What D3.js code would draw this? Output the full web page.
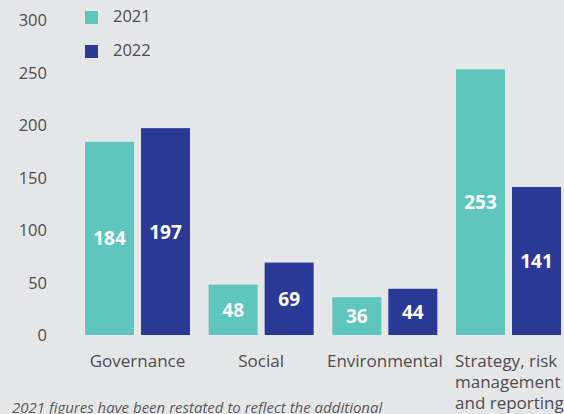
<!DOCTYPE html>
<html>
<head>
<meta charset="utf-8">
<script src="https://cdn.jsdelivr.net/npm/d3@7"></script>
<style>
  html, body { margin: 0; padding: 0; background: #e5e6e8; }
  svg { display: block; }
  text { font-family: "Open Sans", "Noto Sans", sans-serif; }
</style>
</head>
<body>
<svg id="chart" width="564" height="414"></svg>
<script>
// Number of engagements by theme
const categories = ["Governance", "Social", "Environmental", "Strategy, risk management and reporting"];
const categoryLines = [["Governance"], ["Social"], ["Environmental"], ["Strategy, risk", "management", "and reporting"]];
const seriesNames = ["2021", "2022"];
const values2021 = [184, 48, 36, 253];
const values2022 = [197, 69, 44, 141];
const yTicks = [0, 50, 100, 150, 200, 250, 300];
const footnote = "2021 figures have been restated to reflect the additional";

const colors = { "2021": "#5ec6bd", "2022": "#2b3a96" };
const textColor = "#4d4d4f";
const fontFamily = "'Open Sans', 'Noto Sans', sans-serif";

const svg = d3.select("#chart");

const y = d3.scaleLinear().domain([0, 300]).range([335, 20]);

const x0 = d3.scaleBand()
  .domain(categories)
  .range([85, 561])
  .paddingInner(0.151)
  .paddingOuter(0);

const x1 = d3.scaleBand()
  .domain(seriesNames)
  .range([0, x0.bandwidth()])
  .paddingInner(0.125)
  .paddingOuter(0);

const rows = categories.map((c, i) => ({
  category: c,
  lines: categoryLines[i],
  bars: [
    { series: "2021", value: values2021[i] },
    { series: "2022", value: values2022[i] }
  ]
}));

// Y axis labels (no axis line or tick marks)
const yAxis = d3.axisLeft(y).tickValues(yTicks).tickSize(0).tickPadding(0);
const yg = svg.append("g").attr("transform", "translate(47,0)").call(yAxis);
yg.select(".domain").remove();
yg.selectAll("text")
  .attr("fill", textColor)
  .style("font-size", "16.5px")
  .style("font-family", fontFamily)
  .attr("dy", "0.35em");

// Bars
const groups = svg.append("g").selectAll("g")
  .data(rows)
  .join("g")
  .attr("transform", d => `translate(${x0(d.category)},0)`);

groups.selectAll("rect")
  .data(d => d.bars)
  .join("rect")
  .attr("x", d => x1(d.series))
  .attr("y", d => y(d.value))
  .attr("width", x1.bandwidth())
  .attr("height", d => y(0) - y(d.value))
  .attr("fill", d => colors[d.series]);

// Value labels inside bars
groups.selectAll("text.value")
  .data(d => d.bars)
  .join("text")
  .attr("class", "value")
  .attr("x", d => x1(d.series) + x1.bandwidth() / 2)
  .attr("y", d => (y(d.value) + y(0)) / 2 + 2)
  .attr("text-anchor", "middle")
  .attr("dominant-baseline", "middle")
  .attr("fill", "#ffffff")
  .style("font-size", "19px")
  .style("font-weight", "700")
  .text(d => d.value);

// Category labels
groups.each(function (d, i) {
  const last = i === categories.length - 1;
  const t = d3.select(this).append("text")
    .attr("fill", textColor)
    .style("font-size", "17px")
    .attr("text-anchor", last ? "start" : "middle");
  d.lines.forEach((line, j) => {
    t.append("tspan")
      .attr("x", last ? -1 : x0.bandwidth() / 2)
      .attr("y", 367 + j * 21)
      .text(line);
  });
});

// Legend
const legend = svg.append("g").selectAll("g")
  .data(seriesNames)
  .join("g")
  .attr("transform", (d, i) => `translate(85,${11 + i * 34})`);
legend.append("rect")
  .attr("width", 13).attr("height", 13)
  .attr("fill", d => colors[d]);
legend.append("text")
  .attr("x", 28).attr("y", 6.5)
  .attr("dominant-baseline", "middle")
  .attr("fill", textColor)
  .style("font-size", "16.5px")
  .text(d => d);

// Footnote
svg.append("text")
  .attr("x", 12).attr("y", 413)
  .attr("fill", "#5a5a5c")
  .style("font-size", "15px")
  .style("font-style", "italic")
  .text(footnote);
</script>
</body>
</html>
